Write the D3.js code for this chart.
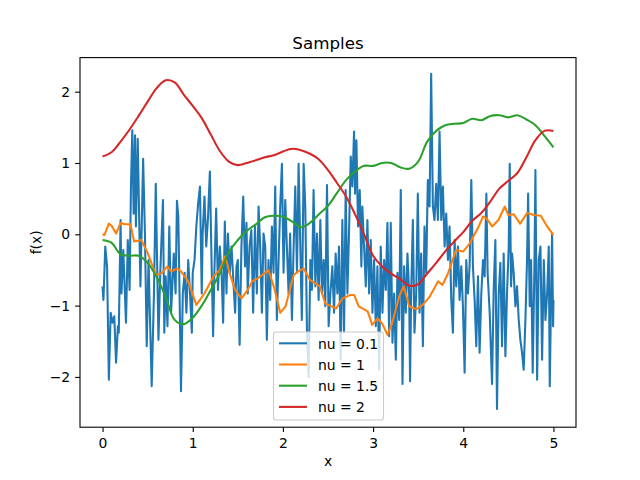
<!DOCTYPE html>
<html><head><meta charset="utf-8">
<script src="https://cdn.jsdelivr.net/npm/d3@7"></script>
<style>body{margin:0;background:#fff}svg{display:block;font-family:"DejaVu Sans",sans-serif}</style>
</head><body><svg id="c" width="640" height="480"></svg>
<script>
const seriesNames = ["nu = 0.1", "nu = 1", "nu = 1.5", "nu = 2"];
const seriesColors = ["#1f77b4", "#ff7f0e", "#2ca02c", "#d62728"];
const xTicks = [0, 1, 2, 3, 4, 5];
const yTicks = [-2, -1, 0, 1, 2];
const titleText = "Samples";
const xLabel = "x";
const yLabel = "f(x)";

const blueX = [0.00,0.01,0.03,0.05,0.07,0.09,0.11,0.13,0.15,0.17,0.18,0.20,0.21,0.23,0.26,0.28,0.30,0.315,0.33,0.345,0.36,0.37,0.39,0.42,0.45,0.47,0.49,0.51,0.545,0.57,0.59,0.62,0.64,0.67,0.685,0.70,0.72,0.74,0.76,0.79,0.81,0.825,
0.84,0.855,0.87,0.89,0.91,0.93,0.95,0.97,0.99,1.00,1.02,1.04,1.06,1.08,1.10,1.11,1.13,1.15,1.17,1.19,1.21,1.226,1.24,1.26,1.28,1.30,1.32,1.337,1.356,1.374,1.39,1.41,1.43,1.47,1.485,1.50,1.52,1.54,1.56,1.58,1.596,1.61,1.63,1.65,1.67,1.69,
1.711,1.73,1.748,1.767,1.785,1.804,1.822,1.84,1.859,1.878,1.896,1.915,1.933,1.952,1.97,1.989,2.007,2.026,2.044,2.063,2.08,2.10,2.119,2.137,2.156,2.174,2.193,2.21,2.23,2.248,2.267,2.285,2.304,2.322,2.34,2.36,2.378,2.396,2.415,2.433,2.452,2.47,2.489,2.507,2.526,
2.548,2.567,2.585,2.604,2.622,2.641,2.659,2.678,2.696,2.715,2.733,2.752,2.77,2.789,2.80,2.815,2.833,2.852,2.87,2.881,2.90,2.919,2.937,2.956,2.974,2.993,3.011,3.03,3.048,3.067,3.085,3.104,3.122,3.141,3.159,3.178,3.196,3.215,3.233,3.252,3.27,3.289,3.307,3.326,3.344,3.363,3.381,3.40,
3.41,3.422,3.441,3.459,3.478,3.496,3.515,3.533,3.552,3.57,3.589,3.607,3.626,3.644,3.663,3.681,3.70,3.719,3.737,3.756,3.774,3.793,3.811,3.83,3.848,3.867,3.885,3.904,3.922,3.941,3.959,3.978,3.996,4.015,4.033,4.052,4.07,4.089,4.107,4.126,4.144,4.163,4.181,4.20,4.219,4.237,4.256,
4.27,4.293,4.319,4.337,4.356,4.374,4.393,4.411,4.43,4.448,4.467,4.485,4.504,4.515,4.53,4.541,4.559,4.578,4.596,4.615,4.633,4.652,4.67,4.689,4.707,4.719,4.737,4.752,4.77,4.789,4.80,4.819,4.837,4.856,4.874,4.893,4.911,4.93,4.948,4.959,4.974,4.985,4.996,5.0];
const blueY = [-0.73,-0.92,-0.17,-0.45,-2.04,-1.10,-1.24,-1.15,-1.80,-1.29,-1.38,0.20,-0.83,-0.22,-1.24,-0.08,-0.78,0.67,1.46,0.29,1.39,0.11,1.34,-0.73,1.06,0.01,-1.57,-0.36,-2.13,-0.83,0.71,-1.48,-0.54,0.48,-1.38,-0.59,-1.29,0.11,-1.10,-0.27,-0.83,0.47,
0.25,-0.92,-2.20,-0.83,-0.54,-1.10,-0.36,-0.83,-1.38,-0.54,-0.36,0.11,0.43,0.67,-0.83,0.01,0.53,-0.17,0.25,0.88,-0.45,-1.43,-0.54,0.36,-0.78,-0.17,-0.54,-1.24,0.18,-0.83,0.01,-0.54,-0.17,-1.10,-0.45,-0.36,-1.55,-0.17,0.53,-0.45,0.16,-0.83,-0.17,0.06,-1.10,0.11,
-0.83,0.39,-0.17,-1.10,0.01,-0.17,-1.48,-0.36,-0.92,0.11,-0.54,0.67,-1.20,-0.36,0.39,0.99,-0.54,0.48,-0.17,-0.83,0.01,-1.20,-0.17,0.67,-0.54,0.99,-0.17,-1.20,0.99,0.39,-1.38,-2.0,-0.36,-0.78,0.62,-0.73,0.01,-0.92,0.20,-0.83,-0.36,-1.01,0.69,-1.29,-0.83,
-0.45,-1.10,-0.27,-0.83,-0.17,-1.76,0.20,-1.38,0.62,-0.83,0.01,1.09,0.67,1.44,0.57,1.32,0.11,0.62,-0.45,0.39,-0.17,-0.73,0.20,-0.83,-0.08,-1.10,-0.36,-1.29,-0.45,-1.90,-0.17,-1.10,-0.36,-0.78,0.16,-1.43,0.16,-1.52,-0.83,-1.76,-0.54,-1.20,0.62,-2.1,-0.45,-1.10,-0.27,-0.83,
-2.06,-0.83,0.20,-1.38,-0.83,0.57,-1.10,-0.27,-1.57,0.11,-0.54,0.76,0.39,2.25,0.39,0.20,0.71,0.20,1.44,0.20,0.67,-0.17,0.29,-0.36,0.11,-0.92,-1.38,-0.08,-0.73,-0.17,-0.92,-0.45,-1.01,-1.94,-0.36,-0.83,-0.45,0.76,-0.45,-0.92,-1.57,-0.59,-1.66,-0.83,-0.36,-0.59,0.57,
-0.54,-1.10,-2.10,-0.78,-0.08,-2.45,-0.83,-0.40,-1.57,-0.27,-1.71,-0.83,-0.17,0.99,-0.73,-0.27,-0.54,-1.01,-0.73,-1.20,-1.48,-1.66,-1.90,-1.20,-0.36,0.57,-1.01,-0.36,-1.94,-0.45,0.90,-2.04,-0.36,-0.17,-1.76,-0.36,-1.20,-0.83,-0.17,-2.13,-0.83,0.01,-1.29,-0.92];

const orangeX = [0.00,0.02,0.07,0.10,0.15,0.20,0.25,0.31,0.35,0.43,0.50,0.59,0.65,0.72,0.76,0.83,0.87,0.95,1.04,1.13,1.23,1.30,1.36,1.41,1.47,1.54,1.61,1.66,1.73,1.84,1.91,1.97,2.03,2.12,2.17,2.23,2.30,2.41,2.47,2.54,2.59,2.66,2.75,2.79,2.84,2.94,2.99,3.05,3.10,3.16,3.21,3.29,3.34,3.37,3.40,3.48,3.55,3.63,3.72,3.77,3.83,3.92,4.00,4.07,4.16,4.22,4.26,4.32,4.39,4.46,4.50,4.56,4.63,4.71,4.78,4.86,4.93,5.00];
const orangeY = [0.00,-0.01,0.15,0.12,0.01,0.16,0.14,0.14,-0.10,-0.08,-0.26,-0.57,-0.55,-0.45,-0.52,-0.48,-0.52,-0.66,-0.99,-0.83,-0.59,-0.50,-0.31,-0.55,-0.78,-0.90,-0.78,-0.66,-0.61,-0.50,-0.78,-1.10,-1.01,-0.57,-0.52,-0.48,-0.64,-0.73,-0.97,-1.01,-1.04,-0.90,-0.85,-0.85,-1.01,-1.08,-1.27,-1.18,-1.25,-1.41,-1.25,-0.87,-0.73,-0.87,-1.01,-1.05,-0.99,-0.87,-0.66,-0.71,-0.55,-0.22,-0.24,-0.13,0.08,0.25,0.22,0.11,0.20,0.39,0.27,0.28,0.15,0.30,0.27,0.26,0.11,-0.01];

const smoothX = [0.0,0.1,0.2,0.3,0.4,0.5,0.6,0.7,0.8,0.9,1.0,1.1,1.2,1.3,1.4,1.5,1.6,1.7,1.8,1.9,2.0,2.1,2.2,2.3,2.4,2.5,2.6,2.7,2.8,2.9,3.0,3.1,3.2,3.3,3.4,3.5,3.6,3.7,3.8,3.9,4.0,4.1,4.2,4.3,4.4,4.5,4.6,4.7,4.8,4.9,5.0];
const greenY = [-0.08,-0.12,-0.28,-0.30,-0.30,-0.40,-0.60,-0.88,-1.20,-1.26,-1.17,-1.00,-0.78,-0.55,-0.25,-0.08,0.05,0.14,0.24,0.26,0.25,0.18,0.10,0.16,0.28,0.40,0.58,0.76,0.88,0.96,0.96,1.00,1.00,0.94,0.92,1.02,1.30,1.45,1.53,1.55,1.56,1.62,1.60,1.66,1.67,1.64,1.67,1.61,1.53,1.38,1.22];
const redY = [1.09,1.15,1.30,1.47,1.66,1.86,2.05,2.16,2.13,1.96,1.80,1.63,1.40,1.17,1.02,0.97,1.00,1.04,1.08,1.11,1.16,1.20,1.18,1.13,1.05,0.90,0.72,0.53,0.28,0.00,-0.30,-0.45,-0.55,-0.63,-0.72,-0.70,-0.55,-0.40,-0.24,-0.10,0.03,0.19,0.30,0.46,0.64,0.75,0.86,1.08,1.32,1.45,1.45];

const series = [
  {x: blueX, y: blueY, curve: d3.curveLinear},
  {x: orangeX, y: orangeY, curve: d3.curveLinear},
  {x: smoothX, y: greenY, curve: d3.curveCatmullRom},
  {x: smoothX, y: redY, curve: d3.curveCatmullRom}
];

const L = 80, R = 576, T = 57.6, B = 427.2;
const x = d3.scaleLinear().domain([-0.25, 5.25]).range([L, R]);
const y = d3.scaleLinear().domain([-2.705, 2.478]).range([B, T]);
const svg = d3.select("#c");

svg.append("clipPath").attr("id","clip").append("rect")
  .attr("x", L).attr("y", T).attr("width", R-L).attr("height", B-T);

const g = svg.append("g").attr("clip-path","url(#clip)");
series.forEach((s, i) => {
  const pts = s.x.map((v, j) => [v, s.y[j]]);
  g.append("path").datum(pts)
    .attr("fill","none").attr("stroke", seriesColors[i]).attr("stroke-width", 2.08)
    .attr("stroke-linejoin","round")
    .attr("d", d3.line().x(d => x(d[0])).y(d => y(d[1])).curve(s.curve));
});

const fs = 13.9;
const xa = svg.append("g").attr("transform", `translate(0,${B})`)
  .call(d3.axisBottom(x).tickValues(xTicks).tickSize(4.86).tickPadding(6.3).tickFormat(d3.format("d")));
const ya = svg.append("g").attr("transform", `translate(${L},0)`)
  .call(d3.axisLeft(y).tickValues(yTicks).tickSize(4.86).tickPadding(5).tickFormat(d3.format("d")));
[xa, ya].forEach(a => {
  a.select(".domain").remove();
  a.selectAll("line").attr("stroke","#000").attr("stroke-width",1.1);
  a.selectAll("text").attr("fill","#000").style("font-size", fs+"px").style("font-family","DejaVu Sans");
});

svg.append("rect").attr("x", L).attr("y", T).attr("width", R-L).attr("height", B-T)
  .attr("fill","none").attr("stroke","#000").attr("stroke-width",1.1);

svg.append("text").attr("x", (L+R)/2).attr("y", 49).attr("text-anchor","middle")
  .style("font-size","16.7px").text(titleText);
svg.append("text").attr("x", (L+R)/2).attr("y", 466).attr("text-anchor","middle")
  .style("font-size", fs+"px").text(xLabel);
svg.append("text").attr("transform", `translate(41,${(T+B)/2}) rotate(-90)`).attr("text-anchor","middle")
  .style("font-size", fs+"px").text(yLabel);

// legend
const lg = svg.append("g");
lg.append("rect").attr("x", 273.5).attr("y", 332).attr("width", 110).attr("height", 88)
  .attr("rx", 2.8).attr("fill","#fff").attr("fill-opacity",0.8).attr("stroke","#cccccc").attr("stroke-width",1.1);
seriesNames.forEach((n, i) => {
  const cy = 343.3 + i*21.2;
  lg.append("line").attr("x1", 279).attr("x2", 307).attr("y1", cy).attr("y2", cy)
    .attr("stroke", seriesColors[i]).attr("stroke-width", 2.08);
  lg.append("text").attr("x", 318).attr("y", cy + 5.2).style("font-size", fs+"px").text(n);
});
</script></body></html>
